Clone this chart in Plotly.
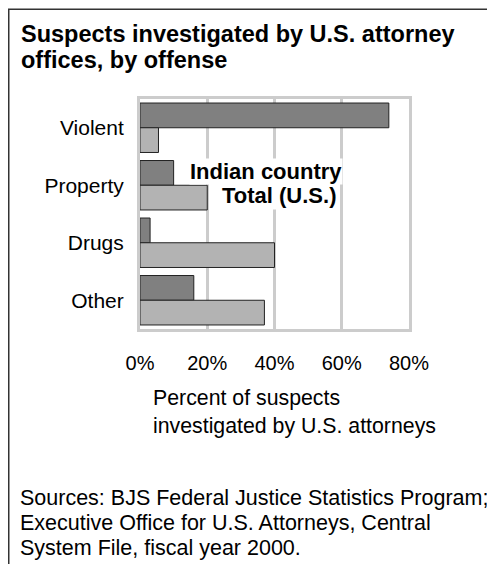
import plotly.graph_objects as go

# ---- data ----
categories = ["Violent", "Property", "Drugs", "Other"]
indian_country = [74, 10, 3, 16]
total_us = [5.5, 20, 40, 37]
series_names = ["Indian country", "Total (U.S.)"]
x_tick_values = [0, 20, 40, 60, 80]
x_tick_labels = ["0%", "20%", "40%", "60%", "80%"]
title_lines = ["Suspects investigated by U.S. attorney", "offices, by offense"]
axis_title_lines = ["Percent of suspects", "investigated by U.S. attorneys"]
source_lines = [
    "Sources: BJS Federal Justice Statistics Program;",
    "Executive Office for U.S. Attorneys, Central",
    "System File, fiscal year 2000.",
]

# ---- layout geometry (figure pixels; page places figure at 8,8) ----
W, H = 495, 564
OX, OY = 8, 8
L, R = 140 - OX, 409 - OX          # plot area left/right
T, B = 99 - OY, 329 - OY           # plot area top/bottom
PW, PH = R - L, B - T
FONT = "Liberation Sans, Arial, Helvetica, sans-serif"


def px(sx):
    """screen x -> paper x"""
    return (sx - OX - L) / PW


def py(sy):
    """screen y -> paper y"""
    return (B - (sy - OY)) / PH


fig = go.Figure()
fig.add_trace(go.Bar(
    y=categories, x=indian_country, name=series_names[0], orientation="h",
    marker=dict(color="#808080", line=dict(color="#222222", width=1)),
))
fig.add_trace(go.Bar(
    y=categories, x=total_us, name=series_names[1], orientation="h",
    marker=dict(color="#b3b3b3", line=dict(color="#222222", width=1)),
))

annotations = []
for i, line in enumerate(title_lines):
    annotations.append(dict(
        text="<b>%s</b>" % line, xref="paper", yref="paper",
        x=px(19), y=py(34 + i * 25.5), xanchor="left", yanchor="middle",
        showarrow=False, font=dict(family=FONT, size=23.5, color="black"),
    ))
# series labels: "Total" first so that "Indian country" is drawn on top
annotations.append(dict(
    text="<b>%s</b>" % series_names[1], xref="paper", yref="paper",
    x=px(338), y=py(195), xanchor="right", yanchor="middle",
    showarrow=False, bgcolor="white", borderpad=1,
    font=dict(family=FONT, size=22, color="black"),
))
annotations.append(dict(
    text="<b>%s</b>" % series_names[0], xref="paper", yref="paper",
    x=px(343), y=py(171), xanchor="right", yanchor="middle",
    showarrow=False, bgcolor="white", borderpad=0,
    font=dict(family=FONT, size=22, color="black"),
))
for i, line in enumerate(axis_title_lines):
    annotations.append(dict(
        text=line, xref="paper", yref="paper",
        x=px(151), y=py(398 + i * 28), xanchor="left", yanchor="middle",
        showarrow=False, font=dict(family=FONT, size=21.3, color="black"),
    ))
for i, line in enumerate(source_lines):
    annotations.append(dict(
        text=line, xref="paper", yref="paper",
        x=px(18), y=py(498 + i * 25), xanchor="left", yanchor="middle",
        showarrow=False, font=dict(family=FONT, size=21.5, color="black"),
    ))

shapes = [
    dict(type="rect", xref="paper", yref="paper",
         x0=px(8.75), x1=px(W + 20), y0=py(9.25), y1=py(H + 20),
         line=dict(color="#333333", width=1.5), fillcolor="rgba(0,0,0,0)"),
]

fig.update_layout(
    width=W, height=H,
    margin=dict(l=L, r=W - R, t=T, b=H - B, pad=0),
    paper_bgcolor="white", plot_bgcolor="white",
    barmode="group", bargap=0.14, bargroupgap=0,
    showlegend=False,
    font=dict(family=FONT, size=20, color="black"),
    annotations=annotations, shapes=shapes,
)
fig.update_xaxes(
    range=[0, 80], tickvals=x_tick_values, ticktext=x_tick_labels,
    showgrid=True, gridcolor="#cccccc", gridwidth=3,
    showline=True, linecolor="#cccccc", linewidth=3, mirror=True,
    zeroline=False, ticks="", ticklabelstandoff=14,
    tickfont=dict(family=FONT, size=20, color="black"), fixedrange=True,
)
fig.update_yaxes(
    autorange="reversed", showgrid=False,
    showline=True, linecolor="#cccccc", linewidth=3, mirror=True,
    ticks="", ticklabelstandoff=9,
    tickfont=dict(family=FONT, size=21, color="black"), fixedrange=True,
)

fig.write_html("out.html")
